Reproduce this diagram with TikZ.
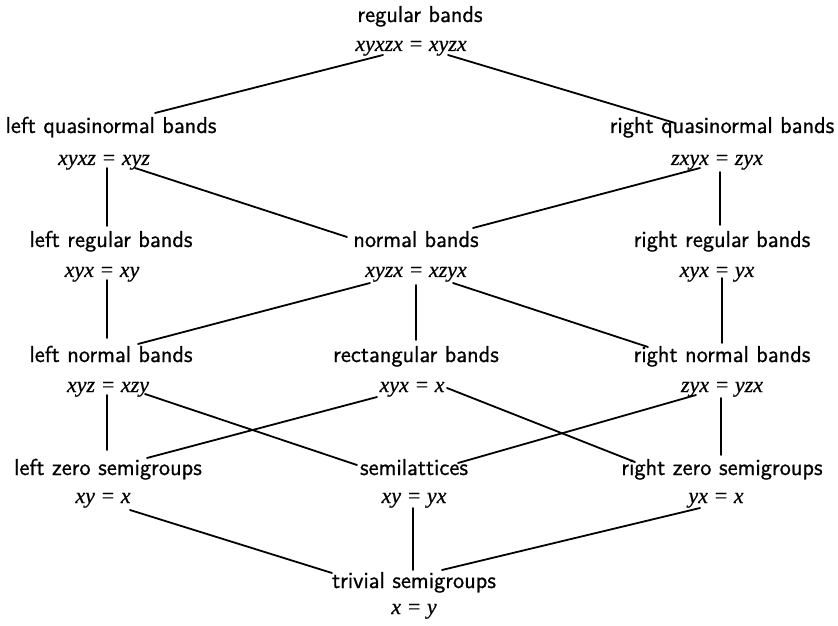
\documentclass[tikz,border=0pt]{standalone}
\usepackage{fontspec}
\newfontfamily\eqfont{Liberation Serif}[RawFeature={embolden=0.4}]
\newfontfamily\ttlfont{Latin Modern Sans}[RawFeature={embolden=0.8}]
\usetikzlibrary{calc}
\begin{document}
\begin{tikzpicture}[x=0.5pt,y=-0.5pt,
  ttl/.style={anchor=base,inner sep=0pt,font=\ttlfont\fontsize{11.5}{13}\selectfont},
  eqn/.style={anchor=base,inner sep=0pt,font=\eqfont\itshape\fontsize{11}{13}\selectfont},
  edge/.style={line width=0.9pt,line cap=round}]
\useasboundingbox (0,0) rectangle (838,625);
% titles and equations
\node[ttl] (treg) at (420,22) {regular bands};
\node[eqn] (ereg) at (411,51) {xyxzx = xyzx};
\node[ttl] (tlq) at (111,133) {left quasinormal bands};
\node[eqn] (elq) at (104,165) {xyxz = xyz};
\node[ttl] (trq) at (722,133) {right quasinormal bands};
\node[eqn] (erq) at (717,165) {zxyx = zyx};
\node[ttl] (tlr) at (111,247) {left regular bands};
\node[eqn] (elr) at (102,277) {xyx = xy};
\node[ttl] (tn) at (416,247) {normal bands};
\node[eqn] (en) at (416,277) {xyzx = xzyx};
\node[ttl] (trr) at (722,247) {right regular bands};
\node[eqn] (err) at (717,277) {xyx = yx};
\node[ttl] (tln) at (111,362) {left normal bands};
\node[eqn] (eln) at (108,392) {xyz = xzy};
\node[ttl] (trect) at (416,362) {rectangular bands};
\node[eqn] (erect) at (412,392) {xyx = x};
\node[ttl] (trn) at (722,362) {right normal bands};
\node[eqn] (ern) at (722,392) {zyx = yzx};
\node[ttl] (tlz) at (108,475) {left zero semigroups};
\node[eqn] (elz) at (103,503) {xy = x};
\node[ttl] (tsl) at (414,475) {semilattices};
\node[eqn] (esl) at (414,503) {xy = yx};
\node[ttl] (trz) at (722,475) {right zero semigroups};
\node[eqn] (erz) at (716,503) {yx = x};
\node[ttl] (ttr) at (414,588) {trivial semigroups};
\node[eqn] (etr) at (414,614) {x = y};
% connectors
\draw[edge] ($(ereg.base)+(-28,4)$) -- ($(tlq.base)+(44,-20)$);
\draw[edge] ($(ereg.base)+(37,4)$) -- ($(trq.base)+(-47,-10)$);
\draw[edge] ($(elq.base)+(3,3)$) -- ($(tlr.base)+(-4,-21)$);
\draw[edge] ($(elq.base)+(31,3)$) -- ($(tn.base)+(-69,-10)$);
\draw[edge] ($(erq.base)+(-17,3)$) -- ($(tn.base)+(57,-19)$);
\draw[edge] ($(erq.base)+(3,7)$) -- ($(trr.base)+(-2,-22)$);
\draw[edge] ($(elr.base)+(5,3)$) -- ($(tln.base)+(-4,-24)$);
\draw[edge] ($(en.base)+(-46,6)$) -- ($(tln.base)+(27,-18)$);
\draw[edge] ($(en.base)+(0,8)$) -- ($(trect.base)+(0,-22)$);
\draw[edge] ($(en.base)+(37,6)$) -- ($(trn.base)+(-74,-15)$);
\draw[edge] ($(err.base)+(5,1)$) -- ($(trn.base)+(0,-19)$);
\draw[edge] ($(eln.base)+(37,2)$) -- ($(tsl.base)+(-57,-10)$);
\draw[edge] ($(erect.base)+(-35,5)$) -- ($(tlz.base)+(39,-17)$);
\draw[edge] ($(erect.base)+(35,-4)$) -- ($(trz.base)+(-87,-13)$);
\draw[edge] ($(ern.base)+(-26,3)$) -- ($(tsl.base)+(44,-12)$);
\draw[edge] ($(ern.base)+(-1,6)$) -- ($(trz.base)+(-1,-20)$);
\draw[edge] ($(eln.base)+(-1,3)$) -- ($(tlz.base)+(-1,-25)$);
\draw[edge] ($(elz.base)+(27,7)$) -- ($(ttr.base)+(-82,-15)$);
\draw[edge] ($(esl.base)+(-1,5)$) -- ($(ttr.base)+(-1,-18)$);
\draw[edge] ($(erz.base)+(-16,5)$) -- ($(ttr.base)+(28,-18)$);
\end{tikzpicture}
\end{document}
